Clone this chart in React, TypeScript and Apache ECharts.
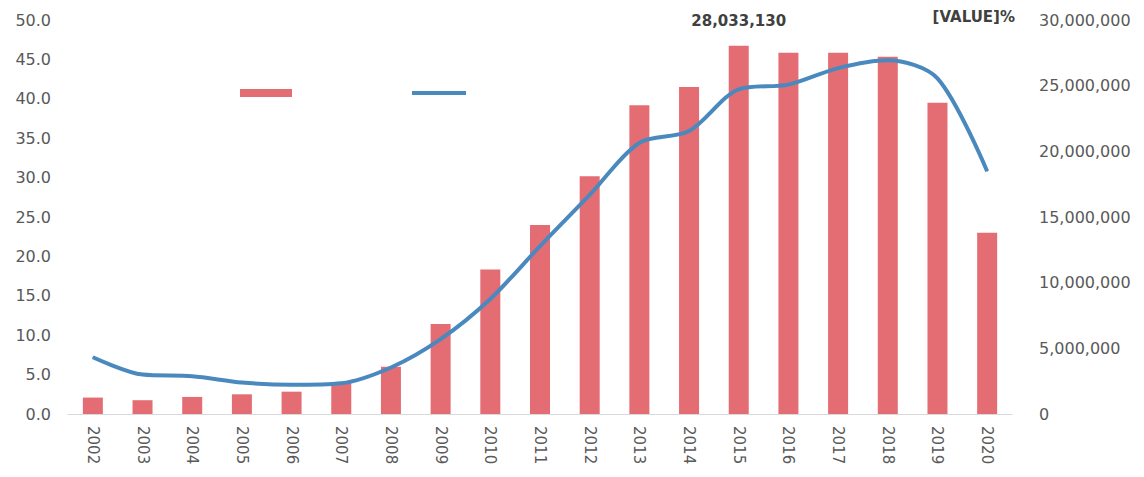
import React, { useEffect, useRef } from "react";
import * as echarts from "echarts";

const years = ["2002","2003","2004","2005","2006","2007","2008","2009","2010","2011","2012","2013","2014","2015","2016","2017","2018","2019","2020"];
const counts = [1250000, 1050000, 1300000, 1500000, 1700000, 2350000, 3600000, 6850000, 11000000, 14400000, 18100000, 23500000, 24900000, 28033130, 27500000, 27500000, 27200000, 23700000, 13800000];
const shares = [7.2, 5.0, 4.8, 4.0, 3.7, 3.9, 5.9, 9.5, 14.6, 21.3, 27.8, 34.4, 35.9, 41.2, 41.8, 43.9, 44.9, 42.6, 30.8];
const countLabelIndex = 13;
const shareLabelIndex = 16;

const fmt = (v: number) => v.toLocaleString("en-US");

export default function App() {
  const ref = useRef<HTMLDivElement>(null);
  useEffect(() => {
    document.body.style.margin = "0";
    const chart = echarts.init(ref.current!, null, { renderer: "svg" });
    const font = "'DejaVu Sans', sans-serif";
    const lineColor = "#4A89BE";
    const barColor = "#E36D73";
    chart.setOption({
      animation: false,
      backgroundColor: "#ffffff",
      textStyle: { fontFamily: font },
      grid: { left: 68, right: 132, top: 20, bottom: 63 },
      graphic: [
        { type: "rect", shape: { x: 240, y: 89, width: 52, height: 8 }, style: { fill: barColor } },
        { type: "line", shape: { x1: 412, y1: 93, x2: 466, y2: 93 }, style: { stroke: lineColor, lineWidth: 4 } },
      ],
      xAxis: {
        type: "category",
        data: years,
        axisLine: { lineStyle: { color: "#D9D9D9", width: 1 } },
        axisTick: { show: false },
        axisLabel: { rotate: -90, color: "#595959", fontSize: 15, margin: 12, fontFamily: font },
      },
      yAxis: [
        {
          type: "value", min: 0, max: 50, interval: 5, position: "left",
          splitLine: { show: false }, axisLine: { show: false }, axisTick: { show: false },
          axisLabel: { color: "#595959", fontSize: 16, margin: 17, formatter: (v: number) => v.toFixed(1), fontFamily: font },
        },
        {
          type: "value", min: 0, max: 30000000, interval: 5000000, position: "right",
          splitLine: { show: false }, axisLine: { show: false }, axisTick: { show: false },
          axisLabel: { color: "#595959", fontSize: 16, margin: 27, formatter: (v: number) => fmt(v), fontFamily: font },
        },
      ],
      series: [
        {
          type: "bar",
          yAxisIndex: 1,
          barWidth: 20,
          itemStyle: { color: barColor },
          data: counts.map((v, i) =>
            i === countLabelIndex
              ? { value: v, label: { show: true, position: "top", distance: 17, formatter: (p: any) => fmt(p.value), fontWeight: "bold", fontSize: 15, color: "#404040", fontFamily: font } }
              : v
          ),
        },
        {
          type: "line",
          yAxisIndex: 0,
          smooth: 0.3,
          symbol: "circle",
          symbolSize: 1,
          showSymbol: true,
          itemStyle: { color: lineColor },
          lineStyle: { color: lineColor, width: 4 },
          data: shares.map((v, i) =>
            i === shareLabelIndex
              ? { value: v, label: { show: true, position: "top", offset: [86, -30], formatter: "[VALUE]%", fontWeight: "bold", fontSize: 15, color: "#404040", fontFamily: font } }
              : v
          ),
        },
      ],
    });
    return () => chart.dispose();
  }, []);
  return <div ref={ref} style={{ width: 1144, height: 477 }} />;
}
